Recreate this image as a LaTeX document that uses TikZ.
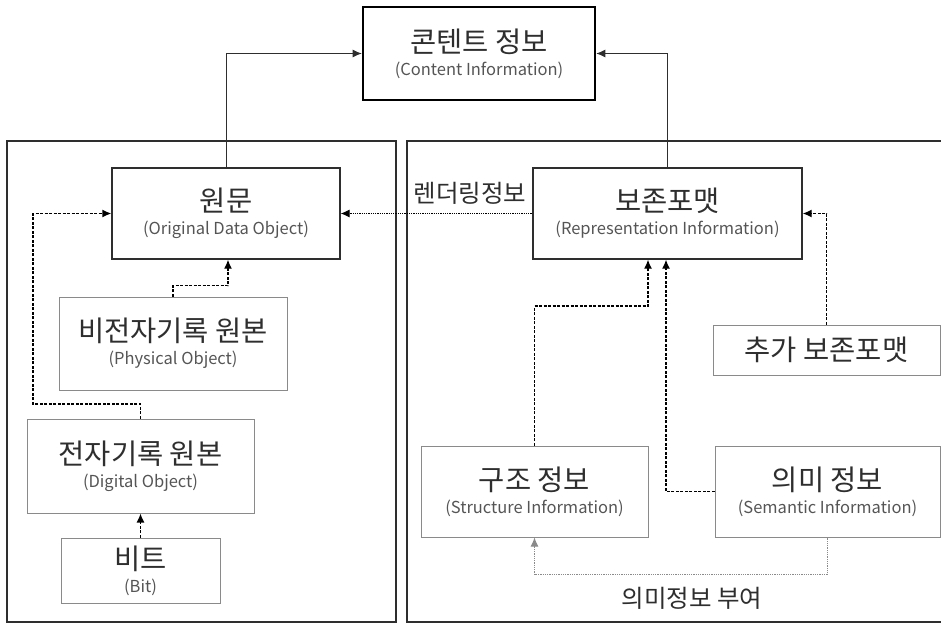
\documentclass[tikz,border=0pt]{standalone}
\usepackage{fontspec}
\setmainfont{Noto Sans CJK KR}
\usetikzlibrary{arrows.meta}
\definecolor{boxline}{HTML}{2E2E2E}
\definecolor{subline}{HTML}{8A8A8A}
\definecolor{engtext}{HTML}{555555}
\newcommand{\eng}[1]{{\fontsize{16.5}{20}\selectfont\color{engtext}#1}}

\begin{document}
\begin{tikzpicture}[x=1pt, y=-1pt,
  every node/.style={text=boxline, font=\fontsize{28.5}{23}\selectfont},
  mainbox/.style={draw=boxline, line width=1.3pt, align=center, inner sep=0pt},
  subbox/.style={draw=subline, line width=1pt, align=center, inner sep=0pt},
  topbox/.style={draw=black, line width=2.6pt, align=center, inner sep=0pt},
  label/.style={font=\fontsize{24.5}{28}\selectfont},
  panel/.style={draw=boxline, line width=1.4pt},
  tip/.style={-{Latex[length=9pt,width=8pt]}},
  solidlink/.style={tip, draw=boxline, line width=0.9pt},
  dashlink/.style={tip, draw=black, line width=1.3pt, dash pattern=on 3pt off 1.5pt},
  dotlink/.style={tip, draw=black, line width=1pt, dash pattern=on 0.9pt off 0.9pt}]

\useasboundingbox (0,0) rectangle (941,623);

% the two panels
\draw[panel] (7,141) rectangle (396,622);
\draw[panel] (952,141) -- (407,141) -- (407,622) -- (952,622);

\node[topbox, minimum width=232pt, minimum height=93pt] (content) at (479,53.5)
  {콘텐트 정보\\\eng{(Content Information)}};

% left panel
\node[mainbox, minimum width=228pt, minimum height=91pt] (orig) at (226,213.5)
  {원문\\\eng{(Original Data Object)}};
\node[subbox, minimum width=228pt, minimum height=93pt] (phys) at (173,343.5)
  {비전자기록 원본\\\eng{(Physical Object)}};
\node[subbox, minimum width=227pt, minimum height=94pt] (digi) at (140.5,466)
  {전자기록 원본\\\eng{(Digital Object)}};
\node[subbox, minimum width=159pt, minimum height=65pt] (bit) at (140.5,570.5)
  {비트\\\eng{(Bit)}};

% right panel
\node[mainbox, minimum width=269pt, minimum height=91pt] (repr) at (667.5,213.5)
  {보존포맷\\\eng{(Representation Information)}};
\node[subbox, minimum width=227pt, minimum height=50pt] (extra) at (826.5,350)
  {추가 보존포맷};
\node[subbox, minimum width=227pt, minimum height=91pt] (struct) at (534.5,491.5)
  {구조 정보\\\eng{(Structure Information)}};
\node[subbox, minimum width=225pt, minimum height=91pt] (sem) at (827.5,491.5)
  {의미 정보\\\eng{(Semantic Information)}};

\node[label] (render) at (470,193) {렌더링정보};
\node[label] (assign) at (692,598) {의미정보 부여};

\coordinate (dturn) at (33,404);

\draw[solidlink] (orig.north) |- (content.west);
\draw[solidlink] (repr.north) |- (content.east);
\draw[dotlink] (repr.west) -- (orig.east);
\draw[dashlink] (phys.north) -- ++(0,-11) -| ([xshift=2pt]orig.south);
\draw[dashlink] (digi.north) |- (dturn) |- (orig.west);
\draw[dashlink] (bit.north) -- (digi.south);
\draw[dashlink] (extra.north) |- (repr.east);
\draw[dashlink] (struct.north) -- ++(0,-139.5) -| ([xshift=-19.5pt]repr.south);
\draw[dashlink] (sem.west) -| ([xshift=-1.5pt]repr.south);
\draw[dotlink, draw=subline] (sem.south) -- ++(0,37) -| (struct.south);

\end{tikzpicture}
\end{document}
